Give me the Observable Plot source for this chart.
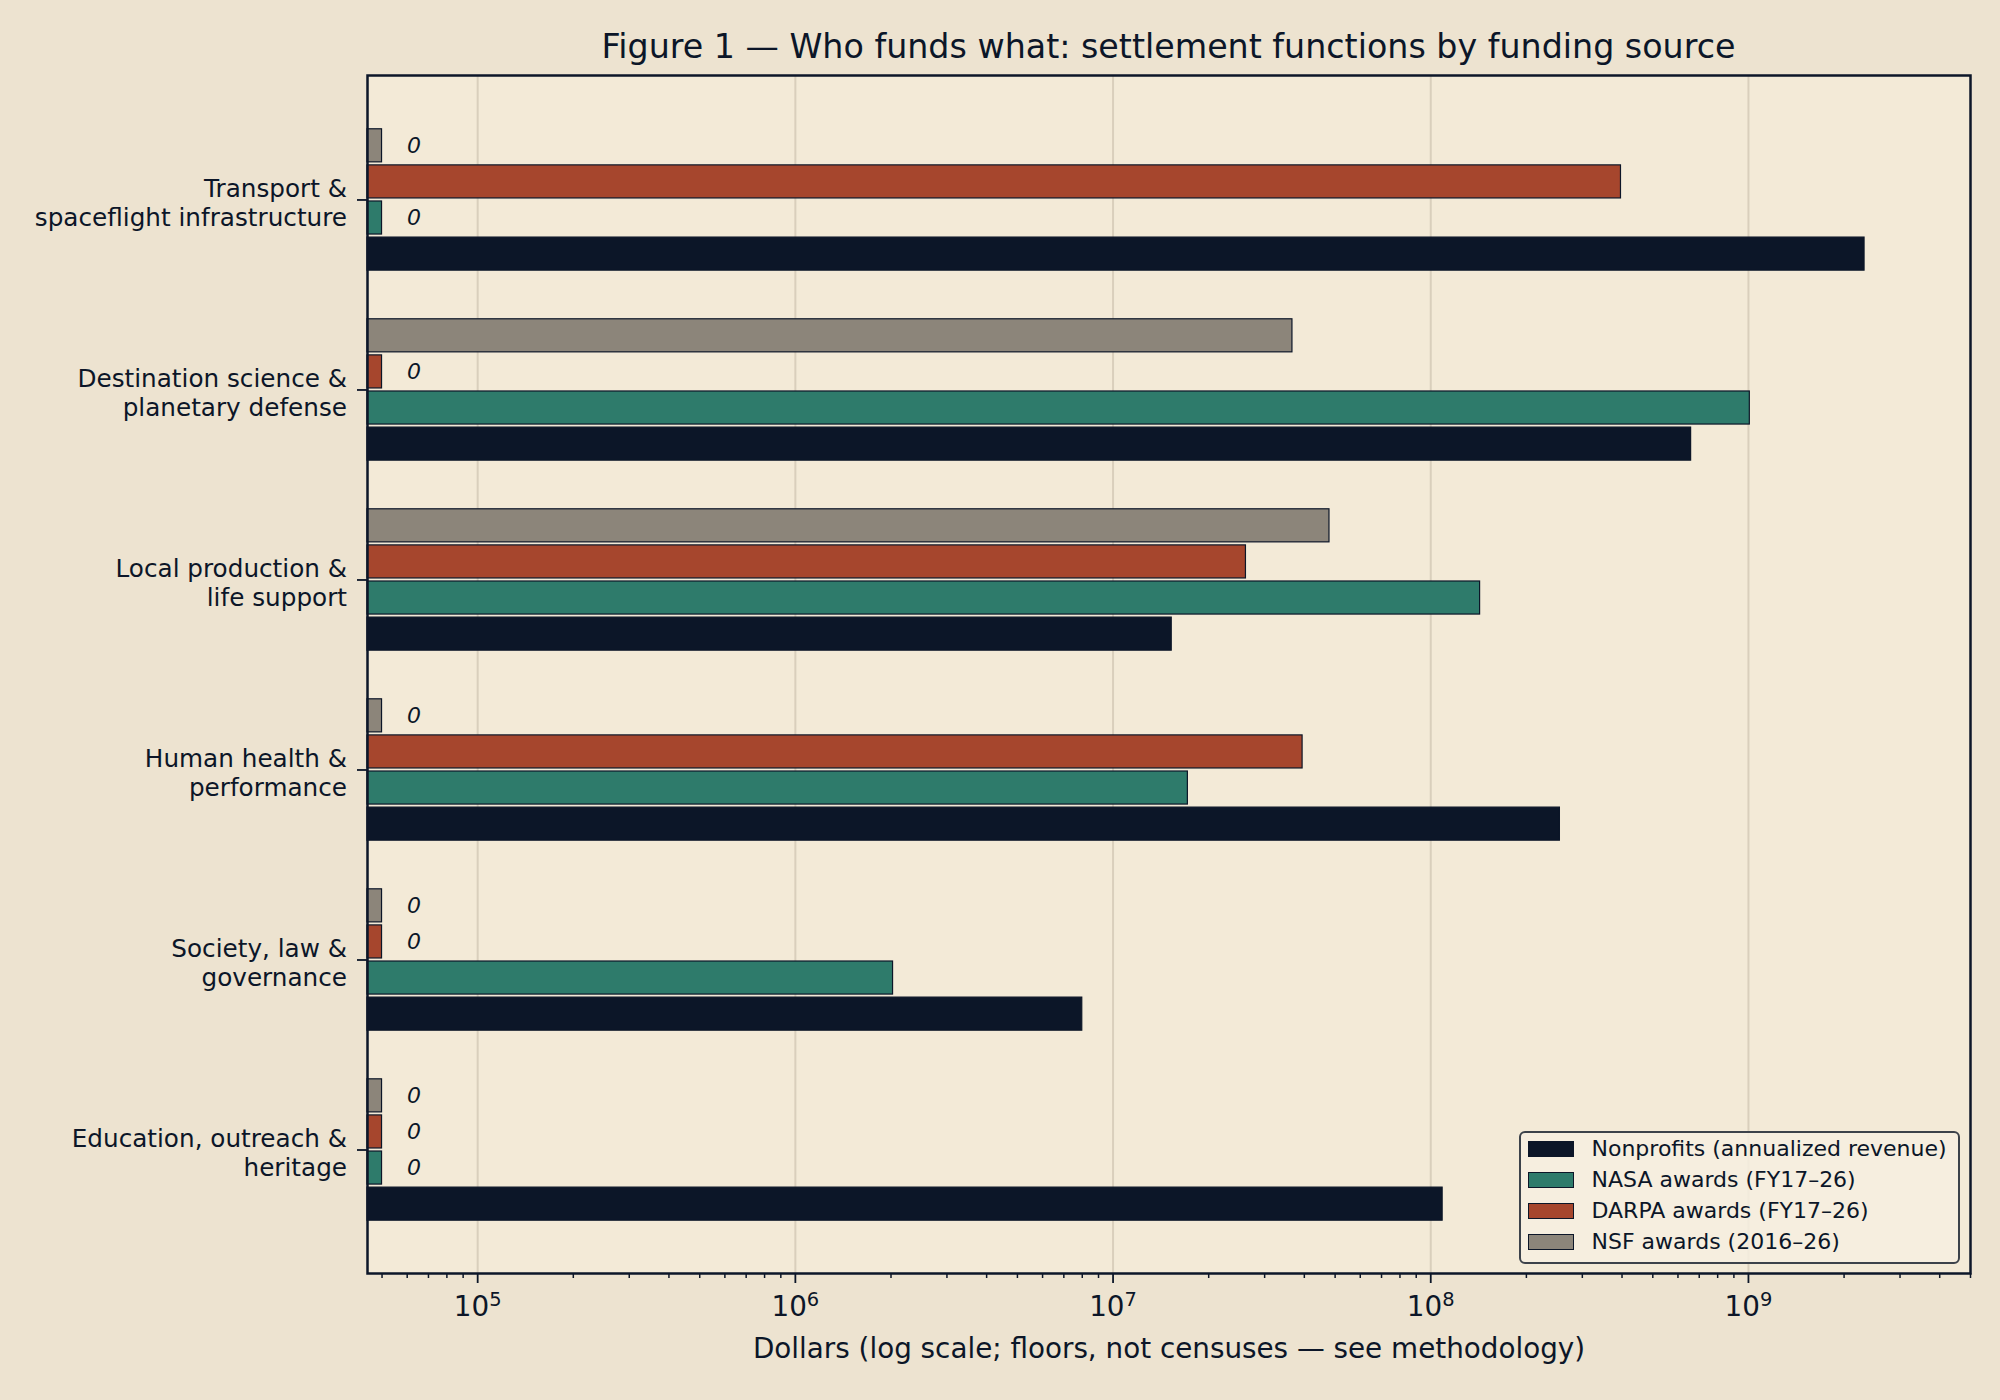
<!DOCTYPE html>
<html>
<head>
<meta charset="utf-8">
<script src="https://cdn.jsdelivr.net/npm/d3@7"></script>
<script src="https://cdn.jsdelivr.net/npm/@observablehq/plot@0.6"></script>
<style>
  html, body { margin: 0; padding: 0; background: #EDE3D0; }
  #fig { position: relative; width: 2000px; height: 1400px; background: #EDE3D0; font-family: "DejaVu Sans", sans-serif; color: #0C1628; }
  #title { margin-left: 367px; width: 1603px; height: 32px; padding-top: 30px; font-size: 33.3px; line-height: 1; text-align: center; white-space: nowrap; }
  #legend { position: absolute; left: 1519px; top: 1131px; width: 441px; height: 133px; box-sizing: border-box;
            border: 2.5px solid #3C424A; border-radius: 6px; background: rgba(246,239,224,0.85); }
  .row { height: 31px; display: flex; align-items: center; font-size: 22px; white-space: nowrap; }
  .sw { width: 46px; height: 16px; box-sizing: border-box; border: 1px solid #0C1628; margin-left: 6.5px; margin-right: 18px; }
  svg { display: block; }
</style>
</head>
<body>
<div id="fig">
  <div id="title"></div>
  <div id="chart"></div>
  <div id="legend"></div>
</div>
<script>
// ---- data ----
const title = "Figure 1 — Who funds what: settlement functions by funding source";
const xLabel = "Dollars (log scale; floors, not censuses — see methodology)";
const categories = [
  "Transport &\nspaceflight infrastructure",
  "Destination science &\nplanetary defense",
  "Local production &\nlife support",
  "Human health &\nperformance",
  "Society, law &\ngovernance",
  "Education, outreach &\nheritage"
];
const series = [
  "Nonprofits (annualized revenue)",
  "NASA awards (FY17–26)",
  "DARPA awards (FY17–26)",
  "NSF awards (2016–26)"
];
const nonprofits = [2.32e9, 6.6e8, 1.53e7, 2.55e8, 8.0e6, 1.09e8];
const nasa       = [0, 1.01e9, 1.43e8, 1.72e7, 2.03e6, 0];
const darpa      = [3.97e8, 0, 2.62e7, 3.95e7, 0, 0];
const nsf        = [0, 3.67e7, 4.8e7, 0, 0, 0];
const colors = ["#0C1628", "#2E7B6B", "#A6462D", "#8C857A"];
const xTicks = [1e5, 1e6, 1e7, 1e8, 1e9];
const xTickLabels = ["10⁵", "10⁶", "10⁷", "10⁸", "10⁹"];
const xMinorTicks = [5e4, 6e4, 7e4, 8e4, 9e4,
  2e5, 3e5, 4e5, 5e5, 6e5, 7e5, 8e5, 9e5,
  2e6, 3e6, 4e6, 5e6, 6e6, 7e6, 8e6, 9e6,
  2e7, 3e7, 4e7, 5e7, 6e7, 7e7, 8e7, 9e7,
  2e8, 3e8, 4e8, 5e8, 6e8, 7e8, 8e8, 9e8,
  2e9, 3e9, 4e9, 5e9];
const xDomain = [4.5e4, 5e9];
const zeroFloor = 5e4;

// ---- build table ----
const valueSets = [nonprofits, nasa, darpa, nsf];
const rows = categories.flatMap((c, ci) => valueSets.map((vals, si) => ({
  category: c, ci, series: series[si], si, value: vals[ci]
})));
const step = 0.19, half = 0.087;
const yc = d => d.ci + (1.5 - d.si) * step;

const navy = "#0C1628";

const chart = Plot.plot({
  width: 2000,
  height: 1338,
  marginTop: 13,
  marginBottom: 127,
  marginLeft: 367,
  marginRight: 30,
  style: { fontFamily: "'DejaVu Sans', sans-serif", background: "transparent", color: navy },
  x: { type: "log", domain: xDomain },
  y: { domain: [5.65, -0.655] },
  color: { domain: series, range: colors },
  marks: [
    Plot.frame({ fill: "#F3EAD7", stroke: null }),
    Plot.gridX(xTicks, { stroke: "#D9CFBC", strokeOpacity: 1, strokeWidth: 2 }),
    Plot.rect(rows, {
      x1: () => xDomain[0],
      x2: d => d.value > 0 ? d.value : zeroFloor,
      y1: d => yc(d) - half,
      y2: d => yc(d) + half,
      fill: "series",
      stroke: navy,
      strokeWidth: 1.2
    }),
    Plot.text(rows.filter(d => d.value === 0), {
      x: () => zeroFloor, y: yc, text: () => "0",
      dx: 25, textAnchor: "start", fontStyle: "italic", fontSize: 22, fill: navy
    }),
    Plot.axisX(xMinorTicks, { tickSize: 5, tickFormat: () => "", label: null, stroke: navy, strokeWidth: 1.5 }),
    Plot.axisX(xTicks, {
      tickSize: 10, tickPadding: 13, strokeWidth: 1.8, stroke: navy, fill: navy,
      tickFormat: d => xTickLabels[xTicks.indexOf(d)],
      fontSize: 27.8,
      label: xLabel, labelAnchor: "center", labelArrow: "none", labelOffset: 84
    }),
    Plot.axisY([0, 1, 2, 3, 4, 5], {
      tickSize: 10, tickPadding: 10.5, strokeWidth: 1.8, stroke: navy, fill: navy,
      tickFormat: d => categories[d], fontSize: 24.7, lineHeight: 1.15, label: null
    }),
    Plot.frame({ stroke: navy, strokeWidth: 2.5 })
  ]
});

// render exponents of the log tick labels as real superscripts (mathtext-like)
const supDigits = "⁰¹²³⁴⁵⁶⁷⁸⁹";
d3.select(chart).selectAll("text").each(function () {
  const t = this.textContent;
  if (xTickLabels.includes(t)) {
    const base = t.slice(0, 2);
    const exp = Array.from(t.slice(2)).map(ch => supDigits.indexOf(ch)).join("");
    const sel = d3.select(this);
    sel.text(base);
    sel.append("tspan").attr("font-size", "70%").attr("dy", "-0.52em").text(exp);
  }
});
// nudge the category labels slightly downward, as in the reference
d3.select(chart).selectAll('g[aria-label="y-axis tick label"]').each(function () {
  const tr = this.getAttribute("transform") || "";
  this.setAttribute("transform", (tr + " translate(0,2.5)").trim());
});

document.getElementById("title").textContent = title;
document.getElementById("chart").appendChild(chart);

const legend = document.getElementById("legend");
series.forEach((s, i) => {
  const row = document.createElement("div");
  row.className = "row";
  const sw = document.createElement("div");
  sw.className = "sw";
  sw.style.background = colors[i];
  const t = document.createElement("span");
  t.textContent = s;
  row.appendChild(sw); row.appendChild(t);
  legend.appendChild(row);
});
</script>
</body>
</html>
